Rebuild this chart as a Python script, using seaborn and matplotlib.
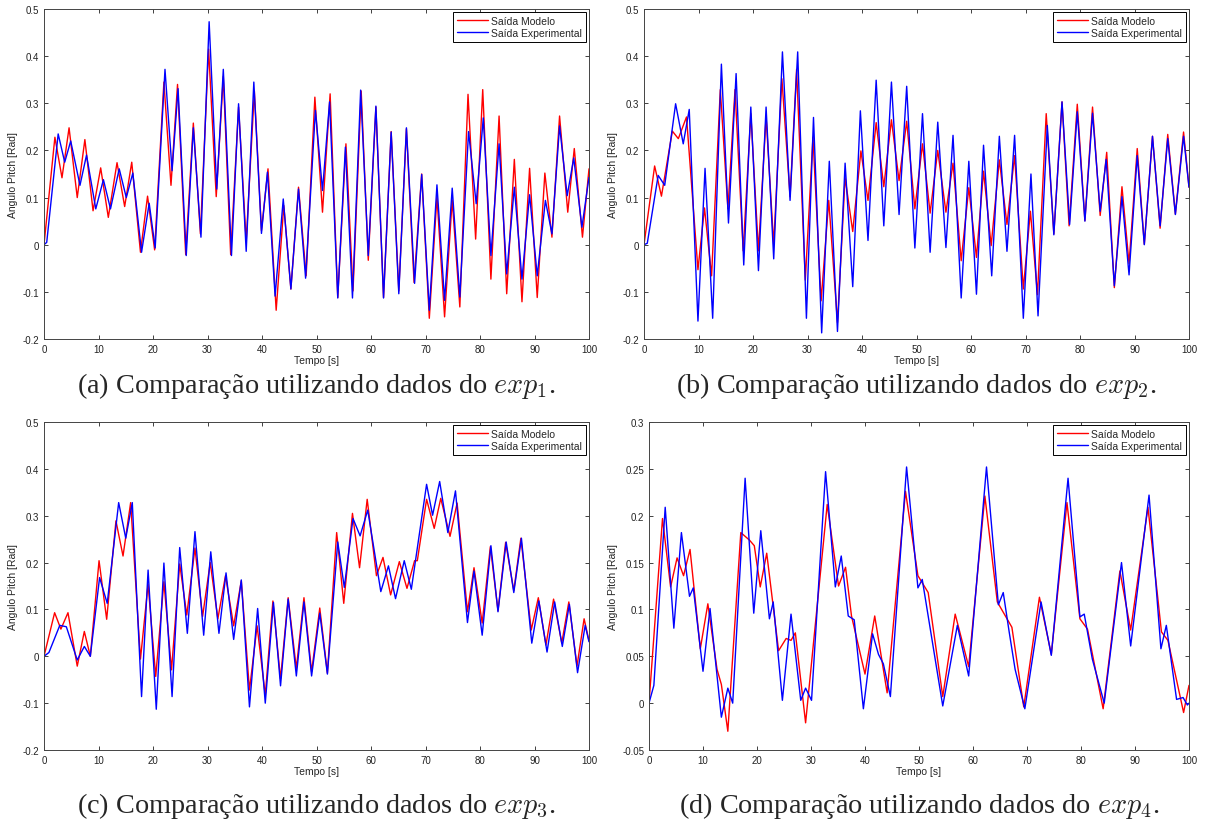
import numpy as np
import pandas as pd
import matplotlib
matplotlib.use('Agg')
import matplotlib.pyplot as plt
from matplotlib.ticker import FuncFormatter, MultipleLocator
import seaborn as sns

# (a) exp1
t_a_mod = [0, 2.0, 3.3, 4.6, 6.1, 7.5, 9.0, 10.4, 11.8, 13.4, 14.8, 16.1, 17.7, 19.0, 20.3, 22.0, 23.3, 24.5, 26.0, 27.4,
           28.7, 30.2, 31.6, 32.9, 34.25, 35.7, 37.1, 38.6, 39.9, 41.1, 42.6, 44.0, 45.3, 46.7, 48.1, 49.7, 51.1, 52.5,
           53.9, 55.4, 56.7, 58.2, 59.5, 60.9, 62.3, 63.7, 65.1, 66.5, 67.9, 69.3, 70.7, 72.1, 73.5, 74.9, 76.3, 77.8,
           79.2, 80.5, 82.0, 83.5, 84.9, 86.3, 87.7, 89.1, 90.5, 91.9, 93.2, 94.6, 96.1, 97.3, 98.8, 100]
y_a_mod = [0, 0.228, 0.142, 0.248, 0.10, 0.223, 0.072, 0.163, 0.058, 0.174, 0.081, 0.175, -0.016, 0.103, -0.011, 0.345,
           0.126, 0.34, -0.021, 0.258, 0.023, 0.415, 0.102, 0.357, -0.021, 0.292, 0.007, 0.326, 0.03, 0.161, -0.139,
           0.083, -0.094, 0.122, -0.066, 0.313, 0.069, 0.32, -0.112, 0.214, -0.098, 0.326, -0.033, 0.292, -0.112, 0.24,
           -0.098, 0.246, -0.08, 0.15, -0.156, 0.102, -0.153, 0.095, -0.132, 0.319, 0.012, 0.329, -0.073, 0.273, -0.104,
           0.181, -0.121, 0.162, -0.112, 0.152, 0.016, 0.273, 0.069, 0.204, 0.016, 0.161]
t_a_exp = [0, 0.5, 2.6, 3.8, 4.9, 6.6, 7.8, 9.5, 10.9, 12.2, 13.8, 15.1, 16.3, 17.9, 19.3, 20.4, 22.2, 23.5, 24.6, 26.1,
           27.4, 28.8, 30.3, 31.7, 32.9, 34.4, 35.7, 37.1, 38.5, 39.9, 41.0, 42.4, 43.9, 45.3, 46.7, 48.0, 49.8, 51.1,
           52.4, 53.9, 55.3, 56.6, 58.1, 59.5, 60.9, 62.3, 63.7, 65.1, 66.5, 68.0, 69.3, 70.7, 72.1, 73.5, 74.9, 76.3,
           77.9, 79.3, 80.6, 82.0, 83.5, 84.9, 86.3, 87.7, 89.1, 90.5, 92.0, 93.2, 94.6, 96.0, 97.2, 98.7, 100]
y_a_exp = [0, 0.005, 0.235, 0.175, 0.22, 0.126, 0.19, 0.076, 0.138, 0.076, 0.161, 0.10, 0.152, -0.016, 0.088, -0.007,
           0.372, 0.157, 0.331, -0.023, 0.248, 0.016, 0.473, 0.118, 0.372, -0.023, 0.299, -0.014, 0.345, 0.024, 0.154,
           -0.109, 0.097, -0.094, 0.118, -0.071, 0.285, 0.115, 0.303, -0.113, 0.207, -0.113, 0.328, -0.023, 0.294,
           -0.113, 0.239, -0.104, 0.248, -0.082, 0.149, -0.139, 0.127, -0.118, 0.12, -0.111, 0.24, 0.087, 0.269, -0.023,
           0.214, -0.062, 0.122, -0.073, 0.106, -0.066, 0.094, 0.023, 0.252, 0.104, 0.184, 0.037, 0.143]

# (b) exp2
t_b_mod = [0, 1.95, 3.2, 5.2, 6.3, 7.8, 9.9, 11.1, 12.4, 14.0, 15.4, 16.7, 18.2, 19.6, 21.0, 22.4, 23.8, 25.3, 26.8,
           28.0, 29.6, 31.0, 32.5, 33.9, 35.5, 36.9, 38.3, 39.8, 41.1, 42.6, 44.0, 45.4, 46.8, 48.2, 49.7, 51.1, 52.5,
           53.9, 55.4, 56.7, 58.2, 59.6, 61.0, 62.3, 63.7, 65.2, 66.6, 68.0, 69.6, 70.9, 72.2, 73.8, 75.2, 76.7, 78.0,
           79.5, 80.9, 82.3, 83.7, 84.9, 86.3, 87.7, 89.0, 90.5, 91.8, 93.3, 94.7, 96.1, 97.5, 99.0, 100]
y_b_mod = [0, 0.167, 0.103, 0.241, 0.225, 0.271, -0.053, 0.078, -0.066, 0.329, 0.076, 0.329, -0.013, 0.278, -0.013,
           0.271, 0.0, 0.352, 0.102, 0.372, -0.075, 0.228, -0.119, 0.094, -0.165, 0.142, 0.028, 0.199, 0.094, 0.259,
           0.123, 0.265, 0.136, 0.262, 0.076, 0.214, 0.067, 0.2, 0.069, 0.173, -0.034, 0.121, -0.027, 0.156, -0.002,
           0.18, 0.043, 0.189, -0.094, 0.071, -0.106, 0.278, 0.023, 0.303, 0.04, 0.298, 0.051, 0.292, 0.062, 0.196,
           -0.091, 0.123, -0.04, 0.204, 0.001, 0.23, 0.035, 0.234, 0.065, 0.239, 0.122]
t_b_exp = [0, 0.6, 2.6, 3.8, 5.8, 7.2, 8.3, 9.9, 11.2, 12.6, 14.2, 15.5, 16.9, 18.3, 19.6, 21.0, 22.4, 23.8, 25.4, 26.8,
           28.2, 29.8, 31.1, 32.6, 34.0, 35.5, 36.9, 38.3, 39.7, 41.1, 42.6, 44.0, 45.4, 46.8, 48.2, 49.7, 51.1, 52.5,
           53.9, 55.4, 56.7, 58.2, 59.6, 61.0, 62.3, 63.8, 65.2, 66.6, 68.0, 69.6, 71.0, 72.3, 74.0, 75.2, 76.7, 78.1,
           79.5, 80.9, 82.3, 83.7, 84.8, 86.3, 87.7, 89.0, 90.5, 91.8, 93.3, 94.7, 96.1, 97.5, 99.0, 100]
y_b_exp = [0, 0.003, 0.147, 0.126, 0.299, 0.214, 0.287, -0.162, 0.162, -0.156, 0.383, 0.046, 0.363, -0.043, 0.292,
           -0.055, 0.292, -0.03, 0.409, 0.094, 0.409, -0.156, 0.27, -0.187, 0.177, -0.184, 0.173, -0.089, 0.284, 0.009,
           0.349, 0.04, 0.345, 0.064, 0.336, -0.007, 0.278, -0.016, 0.26, -0.006, 0.232, -0.113, 0.177, -0.105, 0.211,
           -0.066, 0.23, -0.014, 0.232, -0.156, 0.15, -0.151, 0.253, 0.021, 0.303, 0.043, 0.282, 0.05, 0.279, 0.071,
           0.181, -0.087, 0.102, -0.064, 0.189, 0.0, 0.23, 0.04, 0.225, 0.064, 0.23, 0.122]

# (c) exp3
t_c_mod = [0, 1.95, 3.1, 4.4, 6.1, 7.4, 8.5, 10.1, 11.5, 13.2, 14.5, 15.9, 17.7, 19.1, 20.5, 22.0, 23.4, 24.9, 26.2,
           27.7, 29.1, 30.5, 31.9, 33.3, 34.8, 36.2, 37.7, 39.1, 40.6, 42.0, 43.4, 44.8, 46.3, 47.7, 49.1, 50.6, 52.0,
           53.7, 55.0, 56.6, 57.9, 59.3, 61.0, 62.2, 63.6, 65.2, 66.6, 68.0, 68.5, 70.2, 71.6, 72.8, 74.5, 75.8, 77.7,
           78.9, 80.4, 81.9, 83.3, 84.7, 86.2, 87.5, 89.4, 90.7, 92.1, 93.5, 95.0, 96.3, 97.8, 99.1, 100]
y_c_mod = [0, 0.093, 0.058, 0.093, -0.021, 0.053, 0.0, 0.204, 0.079, 0.289, 0.214, 0.328, -0.006, 0.154, -0.043, 0.159,
           -0.029, 0.197, 0.088, 0.231, 0.085, 0.2, 0.08, 0.172, 0.065, 0.161, -0.072, 0.065, -0.083, 0.118, -0.048,
           0.125, -0.026, 0.125, -0.033, 0.103, -0.036, 0.264, 0.113, 0.305, 0.189, 0.335, 0.172, 0.211, 0.131, 0.202,
           0.145, 0.204, 0.204, 0.335, 0.273, 0.337, 0.256, 0.327, 0.095, 0.189, 0.071, 0.234, 0.097, 0.243, 0.14,
           0.252, 0.056, 0.125, 0.024, 0.122, 0.028, 0.116, -0.021, 0.08, 0.033]
t_c_exp = [0, 0.9, 2.9, 4.1, 6.1, 7.4, 8.5, 10.2, 11.6, 13.7, 15.0, 16.2, 17.9, 19.1, 20.6, 22.0, 23.5, 24.9, 26.3, 27.7,
           29.3, 30.6, 32.1, 33.4, 34.8, 36.2, 37.7, 39.2, 40.6, 42.1, 43.4, 44.8, 46.3, 47.7, 49.1, 50.6, 52.0, 53.9,
           55.1, 56.7, 58.0, 59.4, 61.8, 63.2, 64.5, 66.1, 67.4, 70.2, 71.3, 72.6, 74.1, 75.5, 77.7, 78.9, 80.4, 82.0,
           83.3, 84.8, 86.2, 87.6, 89.5, 90.8, 92.3, 93.7, 95.1, 96.4, 97.9, 99.3, 100]
y_c_exp = [0, 0.008, 0.066, 0.063, -0.008, 0.021, 0.0, 0.168, 0.113, 0.328, 0.252, 0.328, -0.086, 0.184, -0.113, 0.199,
           -0.086, 0.232, 0.049, 0.266, 0.045, 0.223, 0.049, 0.178, 0.036, 0.163, -0.108, 0.102, -0.1, 0.115, -0.063,
           0.122, -0.042, 0.116, -0.042, 0.092, -0.038, 0.244, 0.147, 0.294, 0.257, 0.312, 0.138, 0.193, 0.123, 0.204,
           0.143, 0.367, 0.301, 0.373, 0.264, 0.353, 0.072, 0.182, 0.045, 0.236, 0.095, 0.244, 0.136, 0.252, 0.028,
           0.118, 0.009, 0.116, 0.021, 0.111, -0.035, 0.066, 0.031]

# (d) exp4
t_d_mod = [0, 2.5, 4.0, 5.2, 6.4, 7.6, 9.5, 10.9, 12.6, 13.4, 14.6, 17.0, 18.6, 19.5, 20.6, 21.8, 24.0, 25.4, 26.3, 27.1,
           29.0, 33.0, 35.1, 36.4, 37.5, 40.0, 41.8, 44.1, 47.5, 49.8, 51.7, 54.4, 56.7, 59.2, 62.2, 64.5, 66.3, 67.2,
           69.4, 72.3, 74.5, 77.4, 79.8, 81.2, 84.1, 87.2, 89.2, 92.4, 94.9, 96.1, 99.0, 100]
y_d_mod = [0, 0.197, 0.124, 0.155, 0.136, 0.164, 0.058, 0.106, 0.036, 0.02, -0.03, 0.182, 0.174, 0.168, 0.124, 0.16,
           0.056, 0.069, 0.067, 0.075, -0.021, 0.212, 0.125, 0.145, 0.093, 0.031, 0.093, 0.011, 0.226, 0.136, 0.118,
           0.007, 0.095, 0.039, 0.221, 0.108, 0.09, 0.081, -0.004, 0.113, 0.052, 0.214, 0.09, 0.079, -0.006, 0.141,
           0.078, 0.209, 0.076, 0.067, -0.01, 0.019]
t_d_exp = [0, 0.9, 3.0, 4.6, 6.0, 7.5, 8.2, 10.0, 11.3, 13.4, 14.6, 15.5, 17.8, 19.4, 20.7, 22.3, 23.0, 24.7, 26.3, 28.1,
           29.0, 30.1, 32.7, 34.5, 35.6, 36.9, 38.0, 39.7, 41.4, 42.5, 43.4, 44.7, 47.7, 49.8, 50.6, 52.6, 54.4, 57.1,
           59.2, 62.5, 64.7, 65.6, 66.7, 67.8, 69.6, 72.6, 74.5, 77.6, 79.8, 80.6, 82.1, 84.3, 87.5, 89.2, 92.6, 94.8,
           95.8, 97.7, 98.9, 99.7, 100]
y_d_exp = [0, 0.019, 0.209, 0.08, 0.182, 0.114, 0.123, 0.034, 0.101, -0.015, 0.016, 0.0, 0.24, 0.096, 0.184, 0.09,
           0.108, 0.003, 0.095, 0.003, 0.016, 0.003, 0.247, 0.124, 0.157, 0.093, 0.089, -0.006, 0.074, 0.052, 0.042,
           0.007, 0.252, 0.123, 0.132, 0.061, -0.003, 0.083, 0.029, 0.252, 0.105, 0.118, 0.076, 0.036, -0.006, 0.108,
           0.051, 0.24, 0.092, 0.095, 0.047, 0.0, 0.15, 0.061, 0.222, 0.058, 0.083, 0.004, 0.006, -0.002, 0.0]

legend_labels = ['Saída Modelo', 'Saída Experimental']
captions = ['(a) Comparação utilizando dados do $exp_1$.',
            '(b) Comparação utilizando dados do $exp_2$.',
            '(c) Comparação utilizando dados do $exp_3$.',
            '(d) Comparação utilizando dados do $exp_4$.']


def main():
    sns.set_style('ticks')
    plt.rcParams['font.family'] = ['Liberation Sans', 'DejaVu Sans']
    plt.rcParams['mathtext.fontset'] = 'cm'
    plt.rcParams['xtick.direction'] = 'in'
    plt.rcParams['ytick.direction'] = 'in'
    plt.rcParams['xtick.top'] = True
    plt.rcParams['ytick.right'] = True

    fig = plt.figure(figsize=(12.09, 8.28), dpi=100)
    W, H = 1209., 828.
    boxes = [(44, 589, 10, 340), (644, 1189, 10, 340), (44, 589, 423, 751), (649, 1189, 423, 751)]
    panels = [(t_a_mod, y_a_mod, t_a_exp, y_a_exp, (-0.2, 0.5), 0.1),
              (t_b_mod, y_b_mod, t_b_exp, y_b_exp, (-0.2, 0.5), 0.1),
              (t_c_mod, y_c_mod, t_c_exp, y_c_exp, (-0.2, 0.5), 0.1),
              (t_d_mod, y_d_mod, t_d_exp, y_d_exp, (-0.05, 0.3), 0.05)]
    cap_y = [386, 386, 806, 806]

    for i, (box, p) in enumerate(zip(boxes, panels)):
        l, r, top, bot = box
        ax = fig.add_axes([l / W, 1 - bot / H, (r - l) / W, (bot - top) / H])
        tm, ym, te, ye, ylim, step = p
        sns.lineplot(x=tm, y=ym, color='red', lw=1.0, ax=ax, label=legend_labels[0],
                     sort=False, estimator=None)
        sns.lineplot(x=te, y=ye, color='blue', lw=1.0, ax=ax, label=legend_labels[1],
                     sort=False, estimator=None)
        ax.set_xlim(0, 100)
        ax.set_ylim(*ylim)
        ax.xaxis.set_major_locator(MultipleLocator(10))
        ax.yaxis.set_major_locator(MultipleLocator(step))
        ax.yaxis.set_major_formatter(FuncFormatter(lambda v, pos: '%g' % round(v, 3)))
        ax.tick_params(labelsize=7, length=3, width=0.6, colors='#222222')
        for s in ax.spines.values():
            s.set_linewidth(0.7)
            s.set_color('#444444')
        ax.set_xlabel('Tempo [s]', fontsize=7.5, labelpad=1)
        ax.set_ylabel('Angulo Pitch [Rad]', fontsize=7.5, labelpad=3)
        leg = ax.legend(loc='upper right', fontsize=7.5, frameon=True, fancybox=False,
                        edgecolor='black', framealpha=1, handlelength=3.0, borderpad=0.35,
                        labelspacing=0.2, borderaxespad=0.3, handletextpad=0.3)
        leg.get_frame().set_linewidth(0.7)
        fig.text((l + r) / 2 / W, 1 - cap_y[i] / H, captions[i], ha='center', va='center',
                 fontsize=20.3, family=['Liberation Serif', 'DejaVu Serif'])

    fig.savefig('out.png', dpi=100)


if __name__ == '__main__':
    main()
